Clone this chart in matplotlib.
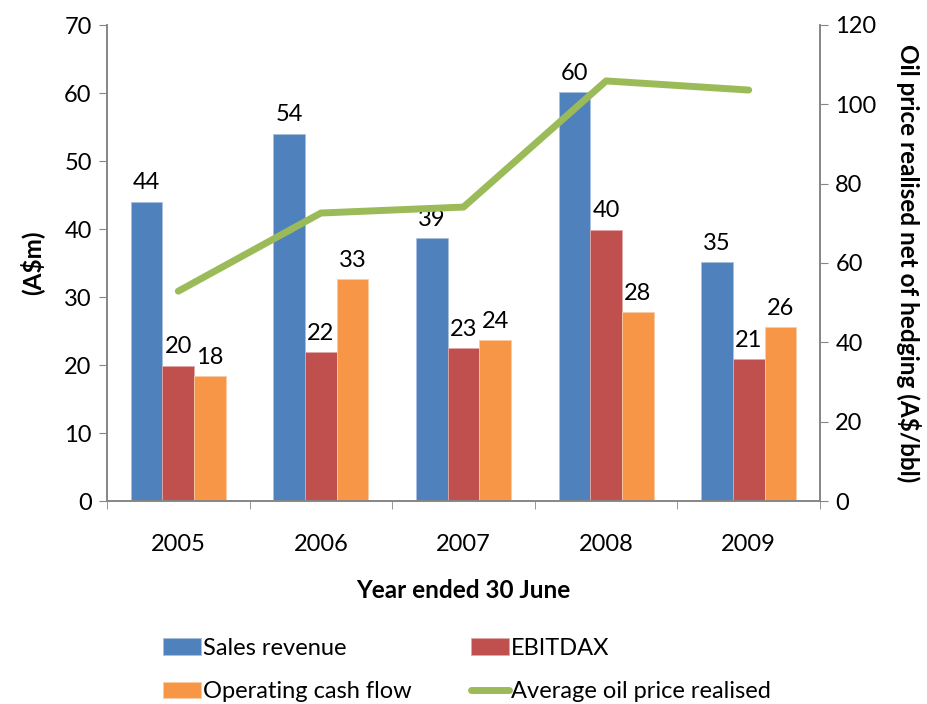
import numpy as np
import matplotlib.pyplot as plt
from matplotlib.ticker import FixedLocator

years = ["2005", "2006", "2007", "2008", "2009"]
sales = [44.0, 54.0, 38.7, 60.1, 35.1]
ebitdax = [19.9, 21.9, 22.5, 39.9, 20.9]
opcash = [18.4, 32.6, 23.7, 27.8, 25.6]
sales_lbl = [44, 54, 39, 60, 35]
ebitdax_lbl = [20, 22, 23, 40, 21]
opcash_lbl = [18, 33, 24, 28, 26]
oil_price = [52.9, 72.6, 74.1, 105.9, 103.6]

plt.rcParams['font.family'] = ['Lato', 'DejaVu Sans']
FS = 17

fig = plt.figure(figsize=(9.28, 7.04), dpi=100)
ax = fig.add_axes([107/928, 1-501/704, 713/928, 476/704])
ax2 = ax.twinx()

x = np.arange(len(years))
w = 1/4.5
cols = ["#4F81BD", "#C0504D", "#F79646"]
b1 = ax.bar(x - w, sales, w, color=cols[0], edgecolor="#a9c0de", linewidth=0.6)
b2 = ax.bar(x, ebitdax, w, color=cols[1], edgecolor="#e0a8a6", linewidth=0.6)
b3 = ax.bar(x + w, opcash, w, color=cols[2], edgecolor="#fbcaa3", linewidth=0.6)
for bars, lbls in [(b1, sales_lbl), (b2, ebitdax_lbl), (b3, opcash_lbl)]:
    ax.bar_label(bars, labels=[str(v) for v in lbls], padding=6, fontsize=FS)

ln, = ax2.plot(x, oil_price, color="#9BBB59", linewidth=5, solid_capstyle="round")

ax.set_xlim(-0.5, 4.5)
ax.set_ylim(0, 70)
ax.set_yticks(range(0, 71, 10))
ax2.set_ylim(0, 120)
ax2.set_yticks(range(0, 121, 20))

ax.set_xticks(x)
ax.set_xticklabels(years)
ax.xaxis.set_minor_locator(FixedLocator(np.arange(-0.5, 4.6, 1)))
ax.tick_params(axis="x", which="major", length=0, pad=24, labelsize=FS)
ax.tick_params(axis="x", which="minor", length=6, color="#868686")
ax.tick_params(axis="y", length=6, color="#868686", labelsize=FS, pad=5)
ax2.tick_params(axis="y", length=6, color="#868686", labelsize=FS, pad=5)

for a in (ax, ax2):
    a.spines["top"].set_visible(False)
    for s in ("left", "right", "bottom"):
        a.spines[s].set_color("#868686")
        a.spines[s].set_linewidth(1.2)

ax.set_ylabel("(A$m)", fontsize=17.5, fontweight="bold", labelpad=14)
ax2.set_ylabel("Oil price realised net of hedging (A$/bbl)", fontsize=17.5,
               fontweight="bold", rotation=270, labelpad=32)
ax.set_xlabel("Year ended 30 June", fontsize=17.5, fontweight="bold", labelpad=17)

fig.legend([b1, b3, b2, ln],
           ["Sales revenue", "Operating cash flow", "EBITDAX", "Average oil price realised"],
           ncol=2, loc="upper left", bbox_to_anchor=(163/928, 1-638/704), frameon=False,
           fontsize=FS, handlelength=1.6, handleheight=0.7, columnspacing=2.5,
           labelspacing=0.95, handletextpad=0.1, borderpad=0, borderaxespad=0)

fig.savefig("out.png", dpi=100)
